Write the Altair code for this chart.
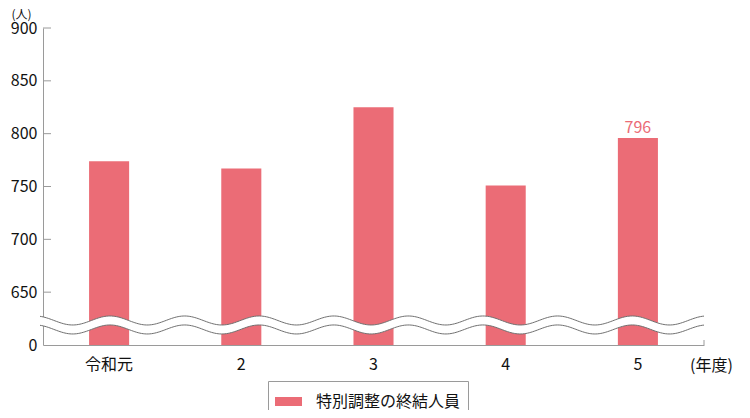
import altair as alt
import numpy as np
import pandas as pd

# ---- data ----
years = ["令和元", "2", "3", "4", "5"]
values = [774, 767, 825, 751, 796]
series_name = "特別調整の終結人員"
tick_values = [650, 700, 750, 800, 850, 900]
axis_base = 600          # position on the broken scale that is labelled "0"
labelled_year = "5"

BAR = "#EB6C76"
GREY = "#9a9a9a"
FONT = "Noto Sans CJK JP"

W, H = 661, 317

df = pd.DataFrame({"year": years, "value": values, "series": series_name})
df_lab = df[df["year"] == labelled_year]
df_ticks = pd.DataFrame({"t": tick_values})

# decorative wavy axis break (not data)
period = 74.6 / W
phase = 67.0 / W
wx = np.linspace(-3.0 / W, 1.0, 400)
s = np.cos(2 * np.pi * (wx - phase) / period)
amp = 4.26
wave = pd.DataFrame({
    "wx": wx,
    "top": 623.2 + amp * s,
    "bot": 614.7 + amp * s,
})

xscale = alt.Scale(domain=years, paddingInner=0.697, paddingOuter=0.3485)
yscale = alt.Scale(domain=[axis_base, 900], zero=False, nice=False)

bars = alt.Chart(df).mark_bar(color=BAR).encode(
    x=alt.X("year:N", sort=years, scale=xscale,
            axis=alt.Axis(title="(年度)", titleX=668, titleY=20, titleAlign="center",
                          titleBaseline="middle", titleFontWeight="normal",
                          titleFontSize=16, titleFont=FONT, titleColor="#111",
                          labelAngle=0, labelFontSize=16, labelFont=FONT,
                          labelColor="#111", labelPadding=11, ticks=False,
                          domainColor=GREY, domainWidth=1)),
    y=alt.Y("value:Q", scale=yscale,
            axis=alt.Axis(values=[axis_base] + tick_values,
                          labelExpr=f"datum.value == {axis_base} ? '0' : datum.label",
                          title="(人)", titleAngle=0, titleX=-22, titleY=-9.4,
                          titleAlign="center", titleBaseline="alphabetic",
                          titleFontWeight="normal", titleFontSize=12, titleFont=FONT,
                          titleColor="#111",
                          labelFontSize=16, labelFont=FONT, labelColor="#111",
                          labelPadding=6, ticks=False, grid=False,
                          domainColor=GREY, domainWidth=1)),
    y2=alt.datum(axis_base),
    fill=alt.Fill("series:N", scale=alt.Scale(range=[BAR]),
                  legend=alt.Legend(title=None, orient="none", legendX=225, legendY=353,
                                    strokeColor=GREY, padding=7,
                                    symbolType="M-1,-0.333H1V0.333H-1Z",
                                    symbolSize=729, symbolStrokeWidth=0,
                                    labelFontSize=16, labelFont=FONT, labelColor="#111",
                                    labelOffset=14, fillColor="white")),
)

label = alt.Chart(df_lab).mark_text(color=BAR, fontSize=16, font=FONT,
                                    baseline="bottom", dy=-2).encode(
    x=alt.X("year:N", sort=years, scale=xscale, axis=None),
    y=alt.Y("value:Q", scale=yscale),
    text=alt.Text("value:Q"),
)

yticks = alt.Chart(df_ticks).mark_rule(color=GREY, strokeWidth=1).encode(
    x=alt.value(0), x2=alt.value(8),
    y=alt.Y("t:Q", scale=yscale),
)

wscale = alt.Scale(domain=[0, 1])
band = alt.Chart(wave).mark_area(color="white", opacity=1).encode(
    x=alt.X("wx:Q", scale=wscale, axis=None),
    y=alt.Y("top:Q", scale=yscale),
    y2="bot:Q",
)
line_top = alt.Chart(wave).mark_line(color="#707070", strokeWidth=1).encode(
    x=alt.X("wx:Q", scale=wscale, axis=None),
    y=alt.Y("top:Q", scale=yscale),
)
line_bot = alt.Chart(wave).mark_line(color="#707070", strokeWidth=1).encode(
    x=alt.X("wx:Q", scale=wscale, axis=None),
    y=alt.Y("bot:Q", scale=yscale),
)
end_tick = alt.Chart(pd.DataFrame({"wx": [1.0]})).mark_rule(color=GREY, strokeWidth=1).encode(
    x=alt.X("wx:Q", scale=wscale, axis=None),
    y=alt.value(H - 5), y2=alt.value(H),
)

chart = alt.layer(bars, label, yticks, band, line_top, line_bot, end_tick).resolve_scale(
    x="independent"
).properties(
    width=W, height=H,
    autosize=alt.AutoSizeParams(type="none"),
    padding={"left": 35, "top": 20, "right": 30, "bottom": 65},
    view=alt.ViewBackground(stroke="transparent", strokeWidth=0),
).configure_view(strokeWidth=0, stroke="transparent", strokeOpacity=0).configure(font=FONT)

chart.save("out.html", embed_options={"renderer": "svg", "actions": False})
